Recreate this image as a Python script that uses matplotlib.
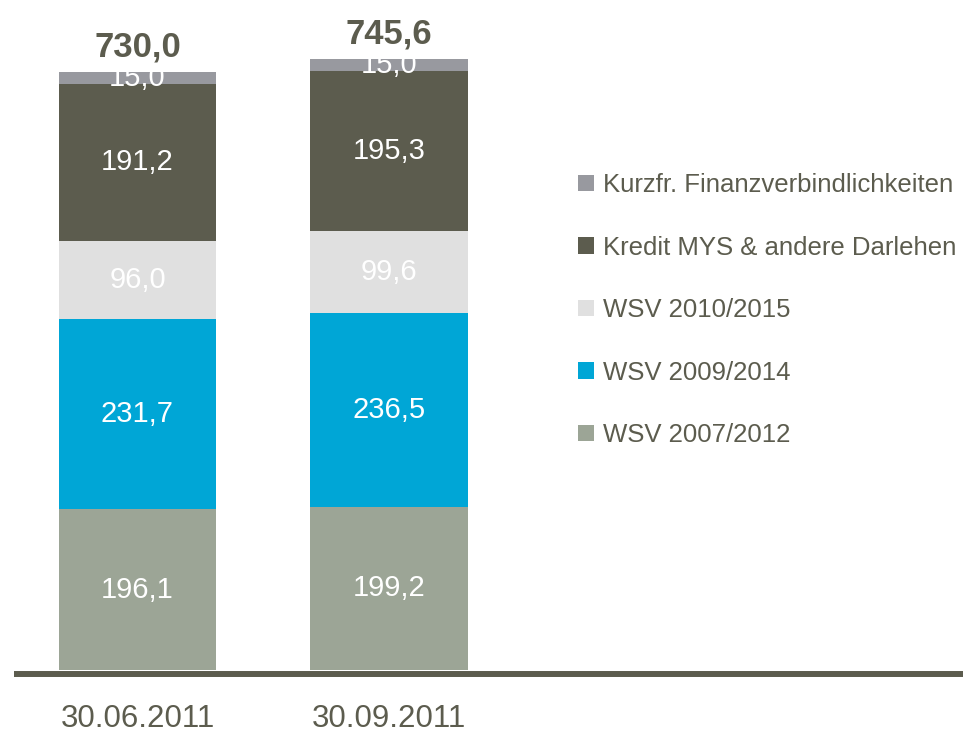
import numpy as np
import matplotlib
matplotlib.use('Agg')
import matplotlib.pyplot as plt

plt.rcParams['font.family'] = ['Liberation Sans', 'DejaVu Sans']

# data
dates = ['30.06.2011', '30.09.2011']
series = ['WSV 2007/2012', 'WSV 2009/2014', 'WSV 2010/2015',
          'Kredit MYS & andere Darlehen', 'Kurzfr. Finanzverbindlichkeiten']
wsv_2007 = [196.1, 199.2]
wsv_2009 = [231.7, 236.5]
wsv_2010 = [96.0, 99.6]
kredit = [191.2, 195.3]
kurzfr = [15.0, 15.0]
totals = [730.0, 745.6]

colors = ['#9ca596', '#00a6d6', '#e0e0e0', '#5c5c4e', '#98999f']
TXT = '#5c5c4e'

fig = plt.figure(figsize=(9.63, 7.33), dpi=100)
ax = fig.add_axes([14 / 963, 63 / 733, 949 / 963, 670 / 733])

x = np.arange(len(dates))
w = 0.626
bottom = np.zeros(len(dates))
for name, vals, c in zip(series, [wsv_2007, wsv_2009, wsv_2010, kredit, kurzfr], colors):
    vals = np.array(vals)
    ax.bar(x, vals, w, bottom=bottom, color=c, label=name, zorder=3)
    for xi, b, v in zip(x, bottom, vals):
        ax.text(xi, b + v / 2, f'{v:.1f}'.replace('.', ','), ha='center', va='center',
                color='white', fontsize=21, zorder=4)
    bottom += vals

for xi, t in zip(x, totals):
    ax.annotate(f'{t:.1f}'.replace('.', ','), (xi, t), xytext=(0, 11), textcoords='offset points',
                ha='center', va='baseline', fontsize=25, fontweight='bold', color=TXT)

ax.set_xlim(-0.491, 3.282)
ax.set_ylim(0, 817.5)
for s in ['top', 'right', 'left']:
    ax.spines[s].set_visible(False)
ax.spines['bottom'].set_position(('outward', 2.7))
ax.spines['bottom'].set_linewidth(4.3)
ax.spines['bottom'].set_color(TXT)
ax.spines['bottom'].set_capstyle('butt')
ax.set_yticks([])
ax.set_xticks(x)
ax.set_xticklabels(dates, fontsize=22.5, color=TXT)
ax.tick_params(axis='x', length=0, pad=22)

h, l = ax.get_legend_handles_labels()
leg = ax.legend(h[::-1], l[::-1], loc='upper left', bbox_to_anchor=(578 / 963, 1 - 173 / 733),
                bbox_transform=fig.transFigure, frameon=False, fontsize=18.5,
                handlelength=0.62, handleheight=0.62, handletextpad=0.35, labelspacing=1.5,
                borderaxespad=0, borderpad=0)
for t in leg.get_texts():
    t.set_color(TXT)

fig.savefig('out.png', dpi=100)
